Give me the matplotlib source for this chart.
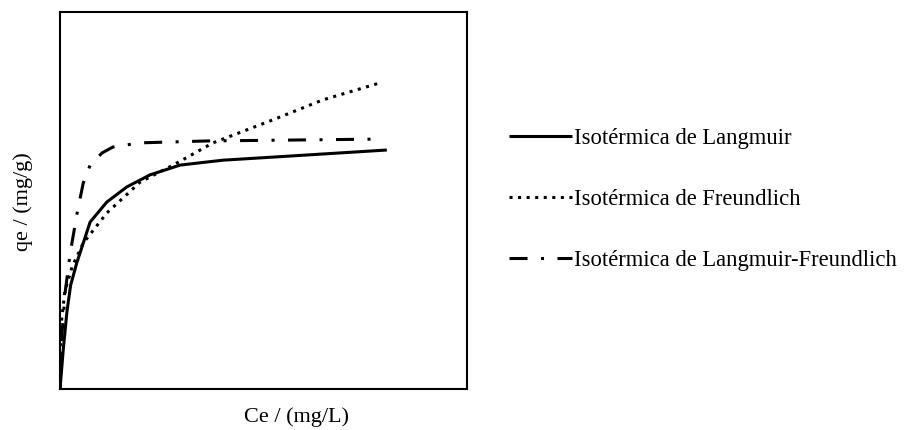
import matplotlib
matplotlib.use("Agg")
import matplotlib.pyplot as plt

plt.rcParams['font.family'] = ['Liberation Serif', 'DejaVu Serif']

# isotherm curves (arbitrary units, axes are unscaled)
ce_langmuir = [0, 0.8, 1.7, 2.6, 4.1, 7.4, 11.5, 16.4, 22.1, 29.5, 40.0, 56.5, 80.3]
qe_langmuir = [0, 10.5, 20.5, 27.5, 33.4, 44.3, 49.6, 53.6, 56.8, 59.4, 60.7, 61.8, 63.4]

ce_freundlich = [0, 0.1, 0.4, 1.2, 3.0, 5.7, 11.5, 19.7, 27.8, 37.6, 52.3, 64.6, 78.6]
qe_freundlich = [0, 12.0, 18.3, 26.0, 32.5, 38.7, 46.7, 54.9, 59.4, 65.3, 71.4, 76.7, 81.2]

ce_lf = [0, 0.5, 1.3, 2.5, 4.2, 5.7, 7.4, 10.3, 13.0, 19.7, 36.1, 78.6]
qe_lf = [0, 14.9, 26.0, 36.0, 46.7, 54.6, 59.4, 62.6, 64.2, 65.3, 65.8, 66.3]

labels = ['Isotérmica de Langmuir',
          'Isotérmica de Freundlich',
          'Isotérmica de Langmuir-Freundlich']

fig = plt.figure(figsize=(9.08, 4.30), dpi=100)
ax = fig.add_axes([0.0661, 0.0953, 0.4482, 0.8767])

lw = 2.2
l1, = ax.plot(ce_langmuir, qe_langmuir, color='black', lw=lw, solid_capstyle='butt')
l2, = ax.plot(ce_freundlich, qe_freundlich, color='black', lw=lw,
              linestyle=(0, (1, 1.8)))
l3, = ax.plot(ce_lf, qe_lf, color='black', lw=lw,
              linestyle=(0, (5.9, 4.4, 1, 4.4)))

ax.set_xlim(0, 100)
ax.set_ylim(0, 100)
ax.set_xticks([])
ax.set_yticks([])
for s in ax.spines.values():
    s.set_linewidth(1.5)

fig.text(0.326, 0.030, 'Ce / (mg/L)', fontsize=16, ha='center', va='center')
fig.text(0.0253, 0.530, 'qe / (mg/g)', fontsize=16, ha='center', va='center',
         rotation=90)

fig.legend([l1, l2, l3], labels, loc='center left',
           bbox_to_anchor=(0.5606, 0.536), frameon=False, fontsize=16.3,
           handlelength=2.78, handletextpad=0.08, labelspacing=1.75,
           borderpad=0, borderaxespad=0)

fig.savefig('out.png', dpi=100)
